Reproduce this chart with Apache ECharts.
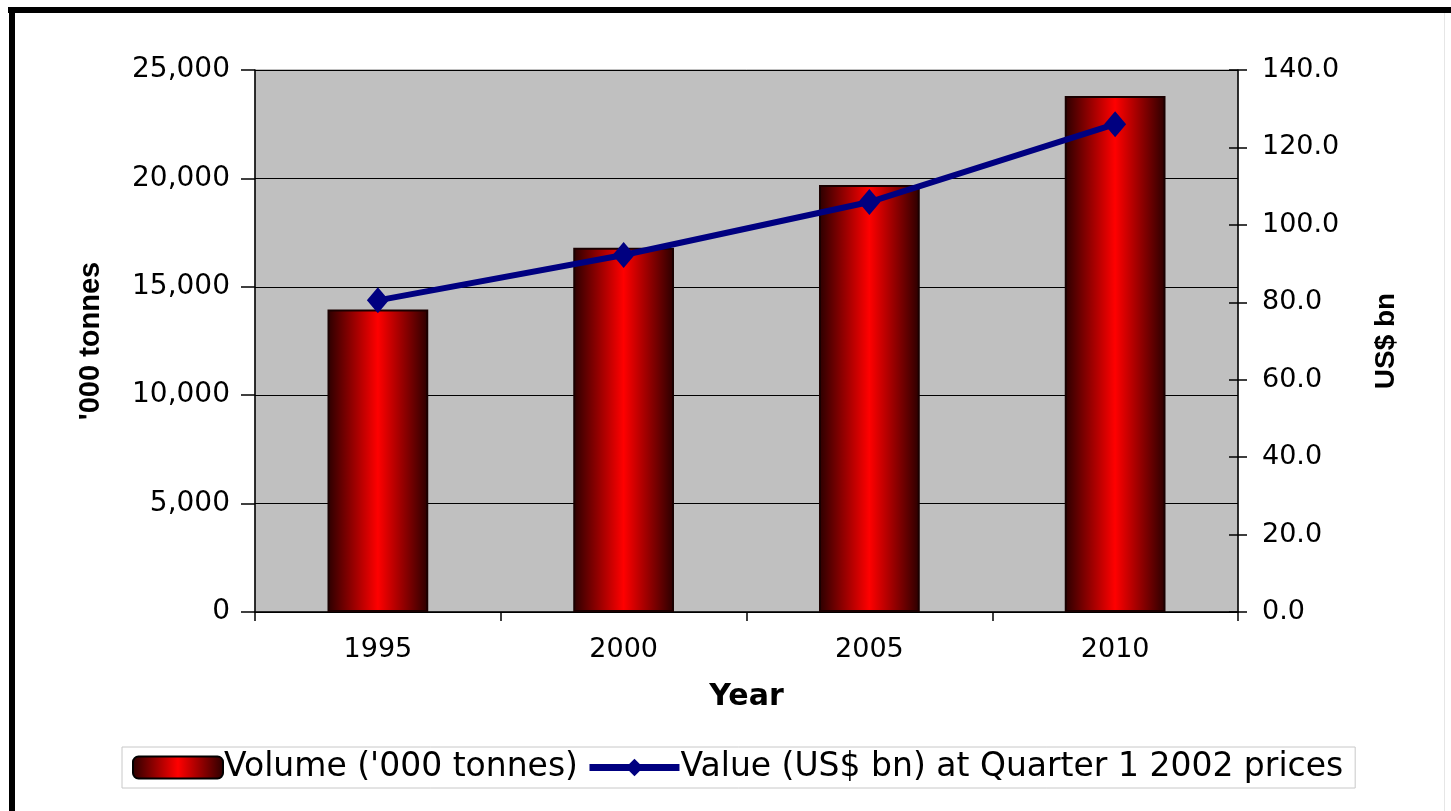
<!DOCTYPE html>
<html><head><meta charset="utf-8">
<script src="https://cdn.jsdelivr.net/npm/echarts@6/dist/echarts.min.js"></script>
<style>html,body{margin:0;padding:0;background:#fff;}#c{width:1451px;height:811px;}</style>
</head><body><div id="c"></div>
<script>
const years = ['1995', '2000', '2005', '2010'];
const volume = [13950, 16800, 19700, 23800];
const value = [80.5, 92.2, 105.9, 126.0];
const leftTicks = [0, 5000, 10000, 15000, 20000, 25000];
const rightTicks = [0, 20, 40, 60, 80, 100, 120, 140];

const chart = echarts.init(document.getElementById('c'));
const font = 'DejaVu Sans, sans-serif';
const nameFont = 'Liberation Sans, Arial, sans-serif';
const barGrad = new echarts.graphic.LinearGradient(0, 0, 1, 0, [
  {offset: 0, color: '#2a0000'},
  {offset: 0.5, color: '#ff0000'},
  {offset: 1, color: '#2a0000'}
]);
chart.setOption({
  animation: false,
  backgroundColor: '#ffffff',
  textStyle: {fontFamily: font},
  graphic: [
    {type: 'rect', shape: {x: 8, y: 7, width: 1443, height: 6}, style: {fill: '#000'}},
    {type: 'rect', shape: {x: 9, y: 7, width: 6, height: 804}, style: {fill: '#000'}},
    {type: 'rect', shape: {x: 1444, y: 13, width: 1, height: 798}, style: {fill: '#e6e6e6'}}
  ],
  grid: {left: 255, right: 213, top: 70, bottom: 199, show: true, backgroundColor: '#c0c0c0', borderColor: '#808080', borderWidth: 1},
  legend: {
    left: 122, top: 747,
    padding: [4, 12, 4, 10],
    borderColor: '#c8c8c8', borderWidth: 1,
    itemWidth: 90, itemHeight: 22, itemGap: 8,
    textStyle: {fontFamily: font, fontSize: 33, color: '#000', padding: [0, 0, 0, -4]},
    data: [
      {name: "Volume ('000 tonnes)", itemStyle: {color: barGrad, borderColor: '#000', borderWidth: 2}},
      {name: 'Value (US$ bn) at Quarter 1 2002 prices', lineStyle: {width: 7, color: '#000080'}}
    ]
  },
  xAxis: [{
    type: 'category', data: years,
    name: 'Year', nameLocation: 'middle', nameGap: 70,
    nameTextStyle: {fontSize: 30, fontWeight: 'bold', color: '#000', fontFamily: font},
    axisLine: {lineStyle: {color: '#000', width: 1.5}},
    axisTick: {show: true, length: 9, lineStyle: {color: '#000', width: 1.5}},
    axisLabel: {fontSize: 27, color: '#000', margin: 24, fontFamily: font},
    splitLine: {show: false}
  }],
  yAxis: [{
    type: 'value', min: 0, max: 25000, interval: 5000, position: 'left',
    name: "'000 tonnes", nameLocation: 'middle', nameGap: 150, nameRotate: 90,
    nameTextStyle: {fontSize: 29, fontWeight: 'bold', color: '#000', fontFamily: nameFont},
    axisLine: {show: true, lineStyle: {color: '#000', width: 1.5}},
    axisTick: {show: true, length: 14, lineStyle: {color: '#000', width: 1.5}},
    axisLabel: {fontSize: 28, color: '#000', margin: 25, fontFamily: font,
      formatter: v => leftTicks.includes(v) ? v.toLocaleString('en-US') : ''},
    splitLine: {show: true, lineStyle: {color: '#000', width: 1.2}}
  }, {
    type: 'value', min: 0, max: 140, interval: 20, position: 'right',
    name: 'US$ bn', nameLocation: 'middle', nameGap: 134, nameRotate: 90,
    nameTextStyle: {fontSize: 28, fontWeight: 'bold', color: '#000', fontFamily: nameFont},
    axisLine: {show: true, lineStyle: {color: '#000', width: 1.5}},
    axisTick: {show: true, length: 9, lineStyle: {color: '#000', width: 1.5}},
    axisLabel: {fontSize: 27, color: '#000', margin: 24, fontFamily: font,
      formatter: v => rightTicks.includes(v) ? v.toFixed(1) : ''},
    splitLine: {show: false}
  }, {
    type: 'value', min: 0, max: 140, interval: 20, position: 'right',
    axisLine: {show: false},
    axisTick: {show: true, inside: true, length: 9, lineStyle: {color: '#000', width: 1.5}},
    axisLabel: {show: false},
    splitLine: {show: false}
  }],
  series: [{
    name: "Volume ('000 tonnes)", type: 'bar', data: volume, yAxisIndex: 0,
    barWidth: '41%',
    itemStyle: {color: barGrad, borderColor: '#1a0000', borderWidth: 2}
  }, {
    name: 'Value (US$ bn) at Quarter 1 2002 prices', type: 'line', data: value, yAxisIndex: 1,
    symbol: 'diamond', symbolSize: [22, 26],
    lineStyle: {color: '#000080', width: 6},
    itemStyle: {color: '#000080'}
  }]
});
</script></body></html>
